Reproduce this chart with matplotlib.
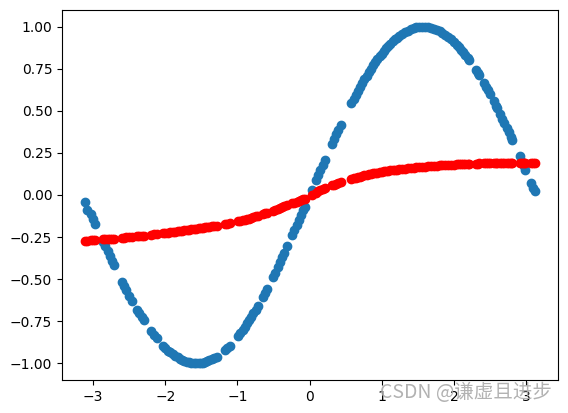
import matplotlib
matplotlib.use("Agg")
import matplotlib.pyplot as plt

# sample positions
x = [-3.12, -3.08, -3.03, -3.00, -2.97, -2.86, -2.83, -2.80, -2.77, -2.74,
     -2.71, -2.60, -2.57, -2.54, -2.50, -2.46, -2.39, -2.36, -2.33, -2.30,
     -2.20, -2.16, -2.12, -2.03, -2.00, -1.96, -1.93, -1.90, -1.86, -1.83,
     -1.80, -1.77, -1.74, -1.70, -1.67, -1.64, -1.60, -1.57, -1.54, -1.51,
     -1.48, -1.45, -1.42, -1.39, -1.36, -1.33, -1.29, -1.17, -1.14, -1.11,
     -0.99, -0.96, -0.93, -0.90, -0.87, -0.84, -0.81, -0.78, -0.75, -0.72,
     -0.65, -0.62, -0.59, -0.51, -0.48, -0.44, -0.41, -0.38, -0.35, -0.31,
     -0.24, -0.21, -0.18, -0.15, -0.12, -0.09, -0.07, 0.03, 0.09, 0.12,
     0.15, 0.18, 0.21, 0.31, 0.34, 0.37, 0.40, 0.43, 0.58, 0.61,
     0.64, 0.67, 0.70, 0.73, 0.76, 0.79, 0.82, 0.85, 0.88, 0.91,
     0.94, 0.97, 1.00, 1.03, 1.06, 1.09, 1.12, 1.15, 1.18, 1.21,
     1.24, 1.28, 1.32, 1.36, 1.40, 1.44, 1.48, 1.52, 1.56, 1.60,
     1.64, 1.68, 1.72, 1.76, 1.80, 1.84, 1.88, 1.92, 1.96, 2.00,
     2.04, 2.07, 2.10, 2.13, 2.16, 2.19, 2.21, 2.30, 2.33, 2.35,
     2.41, 2.44, 2.47, 2.50, 2.55, 2.58, 2.60, 2.64, 2.67, 2.70,
     2.73, 2.76, 2.79, 2.81, 2.91, 2.94, 2.97, 2.99, 3.07, 3.10,
     3.13]

# blue points (target)
y_true = [-0.040, -0.088, -0.111, -0.141, -0.171, -0.277, -0.306, -0.335, -0.362, -0.390,
          -0.418, -0.516, -0.541, -0.566, -0.598, -0.630, -0.683, -0.704, -0.725, -0.746,
          -0.808, -0.831, -0.853, -0.896, -0.909, -0.925, -0.936, -0.946, -0.958, -0.966,
          -0.974, -0.980, -0.986, -0.992, -0.995, -0.998, -1.000, -1.000, -1.000, -0.998,
          -0.996, -0.993, -0.989, -0.984, -0.978, -0.971, -0.961, -0.921, -0.909, -0.896,
          -0.836, -0.819, -0.802, -0.783, -0.764, -0.745, -0.724, -0.703, -0.682, -0.659,
          -0.605, -0.581, -0.556, -0.488, -0.462, -0.426, -0.399, -0.371, -0.343, -0.305,
          -0.238, -0.208, -0.179, -0.149, -0.120, -0.090, -0.070, 0.030, 0.090, 0.120,
          0.149, 0.179, 0.208, 0.305, 0.333, 0.362, 0.389, 0.417, 0.548, 0.573,
          0.597, 0.621, 0.644, 0.667, 0.689, 0.710, 0.731, 0.751, 0.771, 0.790,
          0.808, 0.825, 0.841, 0.857, 0.872, 0.886, 0.900, 0.913, 0.925, 0.936,
          0.946, 0.958, 0.969, 0.978, 0.985, 0.991, 0.996, 0.999, 1.000, 1.000,
          0.998, 0.994, 0.989, 0.982, 0.974, 0.964, 0.953, 0.940, 0.925, 0.909,
          0.892, 0.878, 0.863, 0.848, 0.831, 0.814, 0.802, 0.746, 0.725, 0.711,
          0.668, 0.645, 0.622, 0.598, 0.558, 0.532, 0.516, 0.481, 0.454, 0.427,
          0.400, 0.372, 0.344, 0.325, 0.229, 0.199, 0.170, 0.150, 0.071, 0.042,
          0.022]

# red points (prediction)
y_pred = [-0.273, -0.271, -0.269, -0.268, -0.267, -0.264, -0.263, -0.262, -0.261, -0.260,
          -0.259, -0.255, -0.254, -0.252, -0.250, -0.248, -0.245, -0.244, -0.242, -0.241,
          -0.236, -0.234, -0.232, -0.228, -0.226, -0.224, -0.222, -0.220, -0.218, -0.216,
          -0.214, -0.213, -0.211, -0.209, -0.207, -0.205, -0.203, -0.201, -0.199, -0.197,
          -0.195, -0.193, -0.191, -0.189, -0.187, -0.185, -0.182, -0.173, -0.171, -0.168,
          -0.156, -0.153, -0.150, -0.146, -0.143, -0.140, -0.136, -0.132, -0.127, -0.123,
          -0.113, -0.109, -0.105, -0.093, -0.089, -0.082, -0.077, -0.072, -0.067, -0.061,
          -0.050, -0.045, -0.040, -0.035, -0.030, -0.025, -0.021, 0.000, 0.014, 0.021,
          0.028, 0.034, 0.039, 0.057, 0.062, 0.066, 0.071, 0.075, 0.096, 0.099,
          0.103, 0.106, 0.110, 0.113, 0.116, 0.120, 0.123, 0.125, 0.128, 0.131,
          0.133, 0.136, 0.138, 0.140, 0.142, 0.144, 0.146, 0.148, 0.149, 0.151,
          0.153, 0.155, 0.157, 0.159, 0.161, 0.163, 0.165, 0.166, 0.168, 0.169,
          0.170, 0.172, 0.173, 0.175, 0.176, 0.177, 0.178, 0.179, 0.180, 0.181,
          0.182, 0.183, 0.183, 0.184, 0.185, 0.185, 0.186, 0.187, 0.187, 0.188,
          0.188, 0.189, 0.189, 0.189, 0.190, 0.190, 0.190, 0.191, 0.191, 0.191,
          0.191, 0.192, 0.192, 0.192, 0.192, 0.192, 0.193, 0.193, 0.193, 0.193,
          0.193]

fig = plt.figure(figsize=(5.68, 4.13), dpi=100)
ax = fig.add_axes([62 / 568, 33 / 413, 496 / 568, 370 / 413])

ax.scatter(x, y_true)
ax.scatter(x, y_pred, color="red")

# watermark
fig.text(380 / 568, 20 / 413, "CSDN @谦虚且进步", fontsize=14, color="#aaaaaa",
         alpha=0.9, va="center", ha="left",
         family=["Noto Sans CJK SC", "DejaVu Sans"])

fig.savefig("out.png", dpi=100)
